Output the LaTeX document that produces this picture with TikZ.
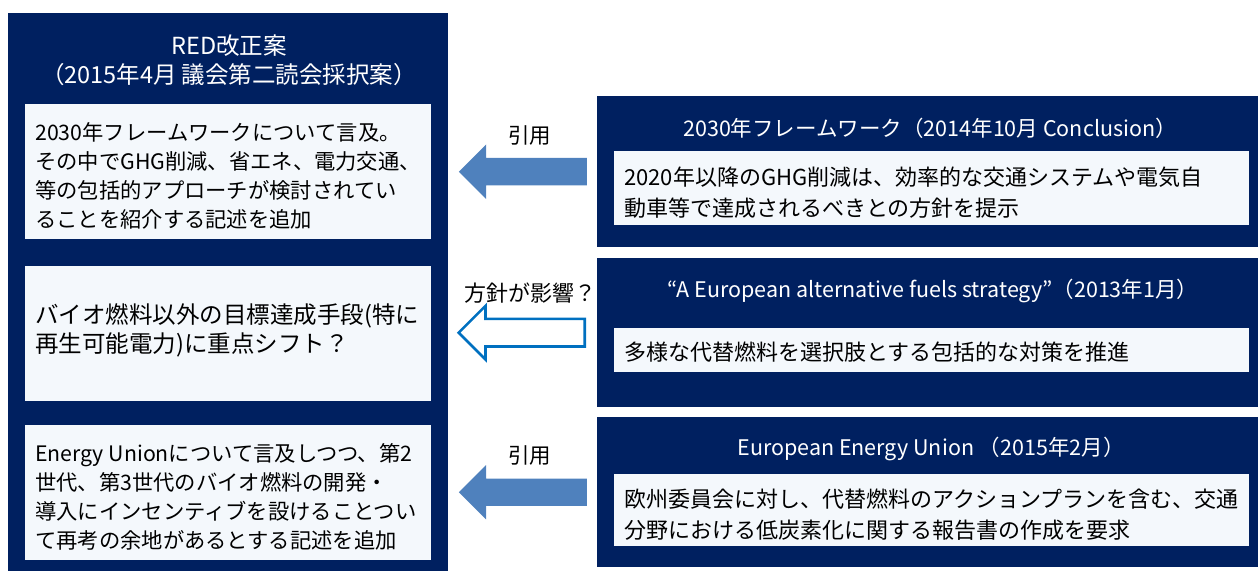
\documentclass[tikz,border=0pt]{standalone}
\usepackage{fontspec}
\setmainfont{Noto Sans CJK JP}
\usetikzlibrary{shapes.arrows,calc}
\definecolor{navy}{HTML}{002060}
\definecolor{paper}{HTML}{F4F8FC}
\definecolor{arrowfill}{HTML}{4F81BD}
\definecolor{arrowline}{HTML}{0070C0}
\tikzset{
  panel/.style={fill=navy, draw=none, inner sep=0pt, anchor=north west},
  whitebox/.style={fill=paper, draw=none, inner sep=0pt, anchor=north west},
  bodytext/.style={align=left, anchor=west, inner sep=0pt, font=\fontsize{21.3}{29}\selectfont, text=black},
  rbodytext/.style={align=left, anchor=west, inner sep=0pt, font=\fontsize{22}{31}\selectfont, text=black},
  titletext/.style={align=center, inner sep=0pt, text=white, font=\fontsize{23.5}{29}\selectfont},
  rtitletext/.style={align=center, inner sep=0pt, text=white, font=\fontsize{21.5}{26}\selectfont},
  blockarrow/.style={single arrow, shape border rotate=180, inner xsep=0pt, inner ysep=13.5pt,
    minimum width=54pt, minimum height=128pt,
    single arrow head extend=13.5pt, single arrow tip angle=90, anchor=tail},
  solidarrow/.style={blockarrow, fill=arrowfill, draw=none},
  hollowarrow/.style={blockarrow, fill=white, draw=arrowline, line width=2.6pt,
    inner ysep=12.5pt, minimum width=52pt, minimum height=126pt, single arrow head extend=13pt},
  arrowlabel/.style={inner sep=0pt, text=black, font=\fontsize{21.5}{26}\selectfont},
}
\begin{document}
\begin{tikzpicture}[x=1pt,y=-1pt]
\useasboundingbox (0,0) rectangle (1258,572);
% left panel
\node[panel, minimum width=440pt, minimum height=558pt] (lpanel) at (8,13) {};
\node[titletext] (ltitle) at (229,60) {RED改正案\\（2015年4月 議会第二読会採択案）};
\node[whitebox, minimum width=406pt, minimum height=135pt] (lbox1) at (25,104) {};
\node[whitebox, minimum width=406pt, minimum height=135pt] (lbox2) at (25,266) {};
\node[whitebox, minimum width=406pt, minimum height=135pt] (lbox3) at (25,425) {};
\node[bodytext] (ltext1) at ($(lbox1.west)+(10,4)$) {2030年フレームワークについて言及。\\その中でGHG削減、省エネ、電力交通、\\等の包括的アプローチが検討されてい\\ることを紹介する記述を追加};
\node[bodytext, font=\fontsize{23.5}{29}\selectfont] (ltext2) at ($(lbox2.west)+(10,-3)$) {バイオ燃料以外の目標達成手段(特に\\再生可能電力)に重点シフト？};
\node[bodytext] (ltext3) at ($(lbox3.west)+(10,4)$) {Energy Unionについて言及しつつ、第2\\世代、第3世代のバイオ燃料の開発・\\導入にインセンティブを設けることつい\\て再考の余地があるとする記述を追加};
% right panels
\node[panel, minimum width=661pt, minimum height=151pt] (rpanel1) at (597,96) {};
\node[rtitletext] (rtitle1) at (930,128) {2030年フレームワーク（2014年10月 Conclusion）};
\node[whitebox, minimum width=635pt, minimum height=74pt] (rbox1) at (614,151) {};
\node[rbodytext] (rtext1) at ($(rbox1.west)+(10,4)$) {2020年以降のGHG削減は、効率的な交通システムや電気自\\動車等で達成されるべきとの方針を提示};
\node[panel, minimum width=661pt, minimum height=149pt] (rpanel2) at (597,258) {};
\node[rtitletext] (rtitle2) at (933,291) {“A European alternative fuels strategy”（2013年1月）};
\node[whitebox, minimum width=635pt, minimum height=44pt] (rbox2) at (614,328) {};
\node[rbodytext] (rtext2) at ($(rbox2.west)+(10,2)$) {多様な代替燃料を選択肢とする包括的な対策を推進};
\node[panel, minimum width=661pt, minimum height=150pt] (rpanel3) at (597,417) {};
\node[rtitletext] (rtitle3) at (931,449) {European Energy Union （2015年2月）};
\node[whitebox, minimum width=635pt, minimum height=72pt] (rbox3) at (614,474) {};
\node[rbodytext] (rtext3) at ($(rbox3.west)+(10,4)$) {欧州委員会に対し、代替燃料のアクションプランを含む、交通\\分野における低炭素化に関する報告書の作成を要求};
% arrows
\node[solidarrow] (arrow1) at ($(rpanel1.west)+(-10,0)$) {};
\node[hollowarrow] (arrow2) at ($(rpanel2.west)+(-11,0)$) {};
\node[solidarrow] (arrow3) at ($(rpanel3.west)+(-10,0)$) {};
\node[arrowlabel] (label1) at ($(arrow1.center)+(0,-36)$) {引用};
\node[arrowlabel, font=\fontsize{22}{26}\selectfont] (label2) at ($(arrow2.center)+(2,-40)$) {方針が影響？};
\node[arrowlabel] (label3) at ($(arrow3.center)+(0,-37)$) {引用};
\end{tikzpicture}
\end{document}
